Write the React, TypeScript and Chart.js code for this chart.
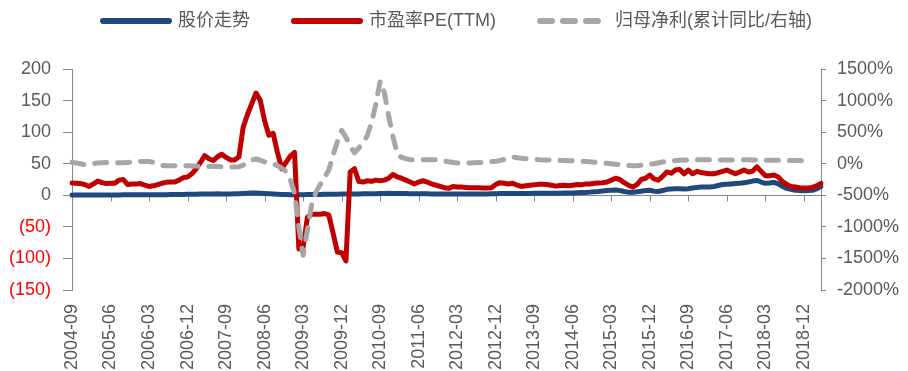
import { useEffect, useRef } from "react";
import { Chart, registerables } from "chart.js";

Chart.register(...registerables);

// Monthly series starting 2004-09
const START_YEAR = 2004;
const START_MONTH = 9;

const seriesNames = ["股价走势", "市盈率PE(TTM)", "归母净利(累计同比/右轴)"];

// 股价走势 (left axis)
const priceTrend = [
  0.6, 0.6, 0.5, 0.5, 0.5, 0.6, 0.6, 0.6, 0.6, 0.6,
  0.6, 0.6, 0.7, 0.7, 0.7, 0.7, 0.7, 0.7, 0.7, 0.8,
  0.9, 1.0, 1.0, 1.1, 1.2, 1.3, 1.4, 1.5, 1.6, 1.8,
  2.0, 2.1, 2.0, 2.2, 2.3, 2.2, 2.1, 2.2, 2.4, 2.6,
  2.9, 3.2, 3.5, 3.8, 3.4, 2.8, 2.3, 1.9, 1.6, 1.3,
  1.1, 1.0, 1.0, 1.0, 1.0, 1.1, 1.2, 1.3, 1.4, 1.5,
  1.6, 1.7, 1.8, 1.9, 2.0, 2.1, 2.2, 2.2, 2.3, 2.4,
  2.5, 2.6, 2.8, 3.0, 3.1, 3.0, 2.9, 2.8, 2.7, 2.6,
  2.5, 2.4, 2.4, 2.3, 2.2, 2.1, 2.0, 1.9, 1.9, 2.0,
  2.0, 2.0, 2.0, 2.1, 2.1, 2.1, 2.2, 2.2, 2.3, 2.5,
  2.7, 2.8, 2.8, 2.9, 2.9, 2.9, 3.0, 3.0, 3.1, 3.1,
  3.1, 3.2, 3.2, 3.3, 3.4, 3.5, 3.6, 3.8, 4.0, 4.3,
  4.6, 5.0, 5.5, 6.0, 6.8, 7.5, 8.0, 8.2, 7.5, 6.0,
  5.0, 4.8, 5.5, 6.5, 7.5, 8.0, 6.5, 6.0, 7.5, 9.5,
  10, 10.5, 10.5, 10, 10.5, 11.5, 12.5, 13, 13, 13,
  14, 15.5, 17, 17.5, 18, 18.5, 19, 20, 21, 22.5,
  23.5, 21, 19, 19.5, 20.5, 18, 14, 11, 9.5, 8,
  7.5, 7, 7.5, 8, 10, 14,
];

// 市盈率PE(TTM) (left axis)
const peTTM = [
  19.5, 19, 18.5, 17, 14, 18, 22.5, 20, 18.5, 19,
  19, 24, 25, 17, 18, 18, 18.5, 16, 14, 15,
  17, 19, 20.5, 21, 21, 24, 28, 29, 34, 42,
  52, 63, 58, 55, 61, 65, 60, 56, 56, 61,
  108, 128, 145, 162, 150, 118, 95, 98, 68, 42,
  52, 62, 68, -85, -82, -35, -30, -30, -30, -29,
  -31, -60, -90, -91, -104, 37, 42, 22, 21, 23,
  22, 24, 23, 24, 27, 33, 29, 27, 24, 21,
  18, 21, 23, 21, 18, 16, 14, 12, 11, 14,
  13, 13, 12.5, 12, 12, 12, 11.5, 11.5, 12, 17,
  20, 19, 18, 19, 16, 14, 15, 16, 16.5, 17.5,
  17.5, 17, 16, 14.5, 15.5, 16, 15, 16, 17, 16.5,
  18, 18, 19, 19.5, 20, 21, 24, 27, 25, 20,
  16, 13, 17, 25, 27, 32, 26, 24, 30, 37,
  35, 40, 41, 34, 40, 34, 38, 36, 35, 34,
  34, 36, 38, 40, 37, 34, 37, 40, 37, 38,
  45, 38, 31, 31, 32, 29, 22, 17, 14, 13,
  12, 11.5, 11.5, 12.5, 15, 19,
];

// 归母净利累计同比, % (right axis)
const profitYoY: (number | null)[] = [
  21, 10, 0, -16, -10, 0, 11, 15, 20, 25,
  20, 15, 15, 20, 25, 30, 35, 37, 37, 20,
  0, -25, -32, -32, -32, -32, -32, -32, -35, -38,
  -40, -43, -43, -43, -45, -47, -50, -52, -52, -50,
  -20, 20, 60, 75, 55, 30, 10, 0, -30, -70,
  -122, -250, -465, -1000, -1450, -1050, -650, -450, -330, -220,
  -100, 140, 350, 529, 420, 280, 170, 250, 320, 450,
  650, 950, 1306, 1120, 750, 430, 150, 100, 80, 63,
  63, 63, 63, 63, 63, 63, 55, 45, 30, 20,
  11, 11, 12, 13, 15, 18, 22, 28, 33, 37,
  50, 70, 90, 106, 95, 85, 80, 77, 75, 63,
  60, 58, 57, 55, 53, 50, 48, 45, 42, 40,
  37, 30, 25, 18, 12, 6, 0, -8, -15, -22,
  -28, -32, -32, -25, -16, -10, 0, 15, 28, 37,
  45, 50, 55, 58, 60, 62, 63, 63, 63, 63,
  62, 61, 60, 60, 60, 61, 62, 62, 61, 60,
  58, 57, 56, 55, 54, 53, 52, 51, 50, 50,
  49, 48, null, null, null, null,
];

const LABEL_EVERY = 9;

function monthLabels(year: number, month: number, count: number): string[] {
  const out: string[] = [];
  let y = year;
  let m = month;
  for (let i = 0; i < count; i++) {
    out.push(`${y}-${String(m).padStart(2, "0")}`);
    m += 1;
    if (m > 12) {
      m = 1;
      y += 1;
    }
  }
  return out;
}

const months = monthLabels(START_YEAR, START_MONTH, peTTM.length);

const COLORS = {
  price: "#1F497D",
  pe: "#C00000",
  profit: "#A6A6A6",
  axis: "#868686",
  text: "#595959",
  negative: "#FF0000",
};

const FONT_FAMILY = '"Liberation Sans", Arial, "Noto Sans CJK SC", sans-serif';

// Horizontal axis line through y = 0 with tick marks at labelled months
const zeroAxisPlugin = {
  id: "zeroAxis",
  beforeDatasetsDraw(chart: any) {
    const { ctx, chartArea, scales } = chart;
    const y0 = Math.round(scales.y.getPixelForValue(0)) + 0.5;
    ctx.save();
    ctx.strokeStyle = COLORS.axis;
    ctx.lineWidth = 1;
    ctx.beginPath();
    ctx.moveTo(chartArea.left, y0);
    ctx.lineTo(chartArea.right, y0);
    for (let i = 0; i < months.length; i += LABEL_EVERY) {
      const x = Math.round(scales.x.getPixelForValue(i)) + 0.5;
      ctx.moveTo(x, y0);
      ctx.lineTo(x, y0 + 6);
    }
    ctx.stroke();
    ctx.restore();
  },
};

// Legend row across the top
const legendPlugin = {
  id: "topLegend",
  afterDraw(chart: any) {
    const { ctx } = chart;
    const y = 21;
    const sampleWidths = [72, 72, 66];
    let x = 100;
    ctx.save();
    ctx.font = `18px ${FONT_FAMILY}`;
    ctx.textBaseline = "middle";
    ctx.textAlign = "left";
    chart.data.datasets.forEach((ds: any, idx: number) => {
      const w = sampleWidths[idx];
      ctx.strokeStyle = ds.borderColor;
      ctx.lineWidth = 6;
      ctx.lineCap = "round";
      ctx.setLineDash(ds.borderDash ? [12, 11] : []);
      ctx.beginPath();
      ctx.moveTo(x + 3, y);
      ctx.lineTo(x + w - 3, y);
      ctx.stroke();
      ctx.setLineDash([]);
      ctx.fillStyle = COLORS.text;
      const tx = x + w + (ds.borderDash ? 12 : 6);
      ctx.fillText(ds.label, tx, y);
      x = tx + ctx.measureText(ds.label).width + 41;
    });
    ctx.restore();
  },
};

export default function App() {
  const canvasRef = useRef<HTMLCanvasElement | null>(null);

  useEffect(() => {
    const canvas = canvasRef.current;
    if (!canvas) return;

    const chart = new Chart(canvas, {
      type: "line",
      data: {
        labels: months,
        datasets: [
          {
            label: seriesNames[0],
            data: priceTrend,
            yAxisID: "y",
            borderColor: COLORS.price,
            backgroundColor: COLORS.price,
            borderWidth: 5,
            pointRadius: 0,
            borderJoinStyle: "round",
            borderCapStyle: "round",
            order: 2,
          },
          {
            label: seriesNames[1],
            data: peTTM,
            yAxisID: "y",
            borderColor: COLORS.pe,
            backgroundColor: COLORS.pe,
            borderWidth: 5,
            pointRadius: 0,
            borderJoinStyle: "round",
            borderCapStyle: "round",
            order: 1,
          },
          {
            label: seriesNames[2],
            data: profitYoY,
            yAxisID: "y2",
            borderColor: COLORS.profit,
            backgroundColor: COLORS.profit,
            borderWidth: 5,
            borderDash: [12, 11],
            pointRadius: 0,
            borderJoinStyle: "round",
            borderCapStyle: "round",
            spanGaps: false,
            order: 0,
          },
        ],
      },
      options: {
        responsive: false,
        animation: false,
        events: [],
        layout: { padding: { top: 69, left: 0, right: 0, bottom: 0 } },
        plugins: {
          legend: { display: false },
          tooltip: { enabled: false },
          title: { display: false },
        },
        scales: {
          x: {
            type: "category",
            offset: false,
            grid: { display: false },
            border: { display: false },
            ticks: {
              autoSkip: false,
              minRotation: 90,
              maxRotation: 90,
              padding: 6,
              color: COLORS.text,
              font: { family: FONT_FAMILY, size: 18 },
              callback: (_v: any, idx: number) =>
                idx % LABEL_EVERY === 0 ? months[idx] : null,
            },
            afterFit: (s: any) => {
              s.height = 81;
            },
          },
          y: {
            position: "left",
            min: -150,
            max: 200,
            grid: {
              display: true,
              drawOnChartArea: false,
              drawTicks: true,
              tickLength: 9,
              color: COLORS.axis,
            },
            border: { display: true, color: COLORS.axis, width: 1 },
            ticks: {
              stepSize: 50,
              padding: 12,
              font: { family: FONT_FAMILY, size: 18 },
              color: (c: any) => (c.tick && c.tick.value < 0 ? COLORS.negative : COLORS.text),
              callback: (v: any) => (v < 0 ? `(${-v})` : `${v}`),
            },
            afterFit: (s: any) => {
              s.width = 72;
            },
          },
          y2: {
            position: "right",
            min: -2000,
            max: 1500,
            grid: {
              display: true,
              drawOnChartArea: false,
              drawTicks: true,
              tickLength: 5,
              color: COLORS.axis,
            },
            border: { display: true, color: COLORS.axis, width: 1 },
            ticks: {
              stepSize: 500,
              padding: 11,
              font: { family: FONT_FAMILY, size: 18 },
              color: COLORS.text,
              callback: (v: any) => `${v}%`,
            },
            afterFit: (s: any) => {
              s.width = 87;
            },
          },
        },
      },
      plugins: [zeroAxisPlugin, legendPlugin],
    } as any);

    return () => chart.destroy();
  }, []);

  return (
    <div
      style={{
        position: "fixed",
        left: 0,
        top: 0,
        width: 908,
        height: 371,
        background: "#ffffff",
      }}
    >
      <canvas ref={canvasRef} width={908} height={371} />
    </div>
  );
}
